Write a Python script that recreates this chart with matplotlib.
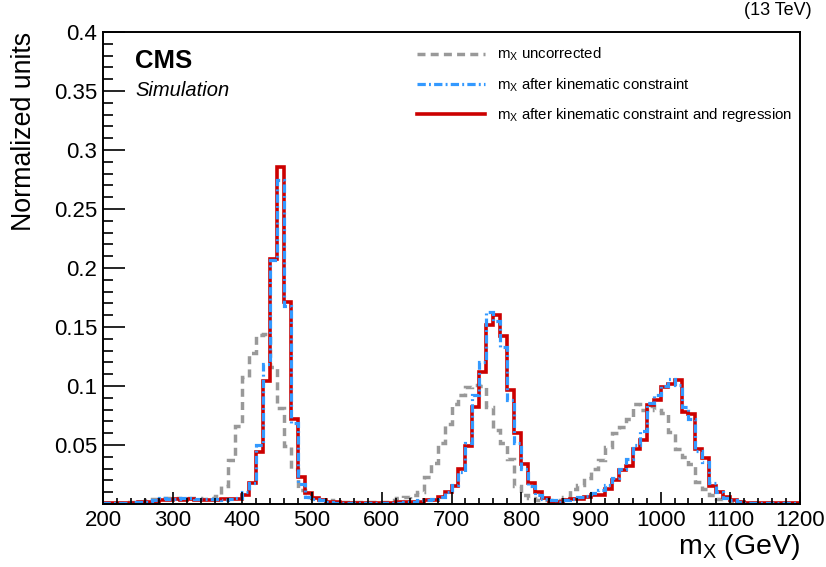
import numpy as np
import matplotlib
matplotlib.use('Agg')
import matplotlib.pyplot as plt
from matplotlib.ticker import MultipleLocator, FuncFormatter

# bin edges of the m_X histograms (GeV), 10 GeV bins
edges = np.arange(200, 1201, 10)

# m_X uncorrected
m_uncorr = [0.001, 0.001, 0.001, 0.002, 0.002, 0.002, 0.003, 0.004, 0.005, 0.005,   # 200-290
            0.005, 0.004, 0.005, 0.005, 0.004, 0.005, 0.007, 0.015, 0.037, 0.066,   # 300-390
            0.108, 0.128, 0.143, 0.144, 0.116, 0.081, 0.049, 0.030, 0.012, 0.006,   # 400-490
            0.004, 0.003, 0.003, 0.002, 0.002, 0.002, 0.002, 0.002, 0.002, 0.002,   # 500-590
            0.002, 0.003, 0.005, 0.006, 0.008, 0.010, 0.023, 0.035, 0.052, 0.068,   # 600-690
            0.085, 0.092, 0.099, 0.101, 0.100, 0.082, 0.063, 0.052, 0.038, 0.015,   # 700-790
            0.008, 0.005, 0.003, 0.003, 0.003, 0.003, 0.006, 0.013, 0.016, 0.022,   # 800-890
            0.030, 0.037, 0.048, 0.060, 0.065, 0.072, 0.085, 0.080, 0.083, 0.080,   # 900-990
            0.077, 0.061, 0.047, 0.040, 0.034, 0.019, 0.013, 0.008, 0.004, 0.003,   # 1000-1090
            0.002, 0.001, 0.001, 0.001, 0.001, 0.001, 0.001, 0.001, 0.001, 0.001]   # 1100-1190

# m_X after kinematic constraint
m_kin = [0.001, 0.001, 0.001, 0.001, 0.002, 0.002, 0.002, 0.003, 0.005, 0.004,
         0.004, 0.005, 0.005, 0.004, 0.004, 0.004, 0.004, 0.003, 0.004, 0.005,
         0.010, 0.018, 0.050, 0.119, 0.207, 0.275, 0.168, 0.069, 0.017, 0.006,
         0.004, 0.003, 0.002, 0.001, 0.001, 0.001, 0.001, 0.001, 0.001, 0.001,
         0.001, 0.001, 0.001, 0.002, 0.002, 0.003, 0.003, 0.004, 0.006, 0.010,
         0.016, 0.027, 0.052, 0.092, 0.120, 0.163, 0.155, 0.133, 0.088, 0.052,
         0.030, 0.015, 0.008, 0.004, 0.003, 0.002, 0.003, 0.004, 0.006, 0.007,
         0.009, 0.012, 0.016, 0.022, 0.030, 0.038, 0.050, 0.062, 0.086, 0.092,
         0.100, 0.106, 0.101, 0.082, 0.072, 0.045, 0.036, 0.018, 0.010, 0.005,
         0.003, 0.002, 0.001, 0.001, 0.001, 0.001, 0.001, 0.001, 0.001, 0.001]

# m_X after kinematic constraint and regression
m_kinreg = [0.001, 0.001, 0.001, 0.001, 0.001, 0.002, 0.002, 0.002, 0.003, 0.003,
            0.004, 0.003, 0.004, 0.003, 0.003, 0.003, 0.003, 0.004, 0.004, 0.004,
            0.008, 0.018, 0.044, 0.104, 0.208, 0.286, 0.171, 0.072, 0.023, 0.009,
            0.005, 0.003, 0.002, 0.002, 0.001, 0.001, 0.001, 0.001, 0.001, 0.001,
            0.001, 0.001, 0.002, 0.002, 0.002, 0.002, 0.003, 0.003, 0.006, 0.010,
            0.015, 0.030, 0.049, 0.082, 0.112, 0.152, 0.160, 0.142, 0.097, 0.060,
            0.034, 0.018, 0.010, 0.005, 0.002, 0.002, 0.003, 0.004, 0.004, 0.006,
            0.008, 0.008, 0.013, 0.020, 0.029, 0.032, 0.047, 0.054, 0.084, 0.088,
            0.099, 0.102, 0.105, 0.078, 0.076, 0.047, 0.039, 0.015, 0.010, 0.006,
            0.003, 0.002, 0.001, 0.001, 0.001, 0.001, 0.001, 0.001, 0.001, 0.001]

labels = ['m$_{X}$ uncorrected',
          'm$_{X}$ after kinematic constraint',
          'm$_{X}$ after kinematic constraint and regression']

plt.rcParams['font.family'] = ['Liberation Sans', 'DejaVu Sans']
plt.rcParams['mathtext.default'] = 'regular'

fig = plt.figure(figsize=(8.26, 5.67), dpi=100)
ax = fig.add_axes([103/826, 1 - 504/567, (800 - 103)/826, (504 - 32)/567])

ax.stairs(m_uncorr, edges, color='#999999', lw=2.5, ls=(0, (2.3, 1.5)), label=labels[0])
ax.stairs(m_kinreg, edges, color='#cc0000', lw=2.6, label=labels[2])
ax.stairs(m_kin, edges, color='#3399ff', lw=2.3, ls=(0, (2.6, 1.0, 0.6, 1.0)), label=labels[1])

ax.set_xlim(200, 1200)
ax.set_ylim(0, 0.4)

ax.xaxis.set_major_locator(MultipleLocator(100))
ax.xaxis.set_minor_locator(MultipleLocator(20))
ax.yaxis.set_major_locator(MultipleLocator(0.05))
ax.yaxis.set_minor_locator(MultipleLocator(0.01))
ax.yaxis.set_major_formatter(FuncFormatter(lambda v, p: '' if abs(v) < 1e-9 else '%g' % round(v, 2)))

ax.tick_params(axis='both', which='both', direction='in', width=1.2, labelsize=16)
ax.tick_params(axis='x', which='major', length=9, pad=4)
ax.tick_params(axis='x', which='minor', length=4.5)
ax.tick_params(axis='y', which='major', length=16, pad=4)
ax.tick_params(axis='y', which='minor', length=7)
for sp in ax.spines.values():
    sp.set_linewidth(1.4)

ax.set_ylabel('Normalized units', fontsize=19.3, loc='top', labelpad=12)
ax.set_xlabel('m$_{X}$ (GeV)', fontsize=20.5, loc='right', labelpad=1)

ax.text(135/826, 1 - 61/567, 'CMS', transform=fig.transFigure, fontsize=18.5,
        fontweight='bold', va='center', ha='left')
ax.text(135/826, 1 - 90/567, 'Simulation', transform=fig.transFigure, fontsize=14.5,
        style='italic', va='center', ha='left')
fig.text(812/826, 1 - 2/567, '(13 TeV)', fontsize=13, ha='right', va='top')

# legend order as in the reference
h, l = ax.get_legend_handles_labels()
order = [0, 2, 1]
ax.legend([h[i] for i in order], [l[i] for i in order], loc='upper left',
          bbox_to_anchor=(417/826, 1 - 46/567), bbox_transform=fig.transFigure,
          frameon=False, fontsize=10.8, handlelength=4.5, handletextpad=0.85,
          labelspacing=0.85, borderpad=0, borderaxespad=0)

fig.savefig('out.png', dpi=100)
